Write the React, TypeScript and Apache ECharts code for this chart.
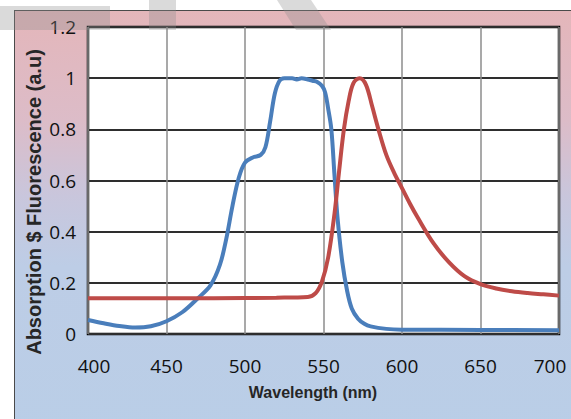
import React, { useEffect, useRef } from "react";
import * as echarts from "echarts";

// Absorption (blue)
const absWavelength = [
  400, 410, 420, 430, 440, 450, 460, 470, 478, 484, 488, 492, 496,
  500, 505, 510, 513, 516, 519, 522, 525, 530, 533, 536, 540, 543, 546, 549, 551, 553, 555, 557, 559,
  562, 565, 568, 572, 576, 580, 590, 600, 650, 700,
];
const absorption = [
  0.055, 0.042, 0.031, 0.025, 0.03, 0.05, 0.085, 0.14, 0.19, 0.27, 0.37, 0.5, 0.61,
  0.67, 0.69, 0.7, 0.73, 0.83, 0.94, 0.99, 1.0, 1.0, 0.995, 1.0, 0.995, 0.99, 0.985, 0.97, 0.945, 0.88, 0.8, 0.62, 0.45,
  0.28, 0.17, 0.1, 0.06, 0.04, 0.03, 0.02, 0.017, 0.016, 0.015,
];

// Fluorescence (red)
const fluWavelength = [
  400, 440, 480, 520, 540, 545, 549, 553, 557, 560, 563, 566, 569, 573, 577, 581,
  585, 590, 595, 600, 605, 610, 620, 630, 640, 650, 660, 670, 680, 690, 700,
];
const fluorescence = [
  0.14, 0.14, 0.14, 0.142, 0.145, 0.16, 0.205, 0.3, 0.47, 0.64, 0.8, 0.91, 0.98, 1.0, 0.975, 0.89,
  0.8, 0.7, 0.63, 0.57, 0.51, 0.455, 0.355, 0.28, 0.225, 0.195, 0.178, 0.167, 0.16, 0.155, 0.15,
];

const xTicks = [400, 450, 500, 550, 600, 650, 700];
const yTicks = [0, 0.2, 0.4, 0.6, 0.8, 1, 1.2];

const xTitle = "Wavelength (nm)";
const yTitle = "Absorption $ Fluorescence (a.u)";

export default function App() {
  const ref = useRef<HTMLDivElement>(null);

  useEffect(() => {
    const chart = echarts.init(ref.current!, null, { renderer: "svg" });
    const zip = (xs: number[], ys: number[]) => xs.map((x, i) => [x, ys[i]]);
    const tickFont = { fontFamily: "Open Sans", fontSize: 19, color: "#111111" };
    chart.setOption({
      animation: false,
      backgroundColor: "transparent",
      grid: {
        left: 88,
        top: 27,
        right: 12,
        bottom: 85,
        show: true,
        backgroundColor: "#ffffff",
        borderColor: "#000000",
        borderWidth: 2.5,
        containLabel: false,
      },
      xAxis: {
        type: "value",
        min: xTicks[0],
        max: xTicks[xTicks.length - 1],
        interval: 50,
        axisLine: { show: false },
        axisTick: { show: false },
        splitLine: { show: true, lineStyle: { color: "#8c8c8c", width: 1.5 } },
        axisLabel: {
          margin: 22,
          ...tickFont,
          formatter: (v: number) =>
            v === xTicks[0] ? "{l|" + v + "}" : v === xTicks[xTicks.length - 1] ? "{r|" + v + "}" : String(v),
          rich: {
            l: { ...tickFont, padding: [0, 0, 0, 12] },
            r: { ...tickFont, padding: [0, 18, 0, 0] },
          },
        },
      },
      yAxis: {
        type: "value",
        min: yTicks[0],
        max: yTicks[yTicks.length - 1],
        interval: 0.2,
        axisLine: { show: false },
        axisTick: { show: false },
        splitLine: { show: true, lineStyle: { color: "#2e2e2e", width: 2 } },
        axisLabel: {
          margin: 12,
          ...tickFont,
          formatter: (v: number) => String(Math.round(v * 10) / 10),
        },
      },
      series: [
        {
          type: "line",
          name: "Absorption",
          data: zip(absWavelength, absorption),
          showSymbol: false,
          smooth: 0.35,
          lineStyle: { color: "#4a7ebb", width: 4 },
          z: 3,
        },
        {
          type: "line",
          name: "Fluorescence",
          data: zip(fluWavelength, fluorescence),
          showSymbol: false,
          smooth: 0.35,
          lineStyle: { color: "#be4b48", width: 4 },
          z: 4,
        },
      ],
      graphic: [
        {
          type: "text",
          x: 34,
          y: 202,
          rotation: Math.PI / 2,
          style: {
            text: yTitle,
            fontFamily: "Liberation Sans",
            fontWeight: "bold",
            fontSize: 20,
            fill: "#262626",
            align: "center",
            verticalAlign: "middle",
          },
        },
        {
          type: "text",
          x: 313,
          y: 392,
          style: {
            text: xTitle,
            fontFamily: "Liberation Sans",
            fontWeight: "bold",
            fontSize: 16,
            fill: "#262626",
            align: "center",
            verticalAlign: "middle",
          },
        },
        {
          type: "polygon",
          z: 100,
          shape: { points: [[0, 6], [110, 6], [110, 30], [0, 30]] },
          style: { fill: "rgba(140,140,140,0.32)" },
        },
        {
          type: "polygon",
          z: 100,
          shape: { points: [[149, 0], [176, 0], [176, 30], [149, 30]] },
          style: { fill: "rgba(140,140,140,0.32)" },
        },
        {
          type: "polygon",
          z: 100,
          shape: { points: [[277, 0], [311, 0], [331, 30], [296, 30]] },
          style: { fill: "rgba(140,140,140,0.32)" },
        },
      ],
    });
    return () => chart.dispose();
  }, []);

  return (
    <div
      style={{
        position: "fixed",
        left: 0,
        top: 0,
        width: 571,
        height: 419,
        background: "#ffffff",
        overflow: "hidden",
      }}
    >
      <div
        style={{
          position: "absolute",
          left: 14,
          top: 10,
          width: 600,
          height: 440,
          borderLeft: "1.5px solid #4a4a4a",
          borderTop: "1.5px solid #4a4a4a",
          background:
            "linear-gradient(to bottom, #e4b6ba 0%, #dcbcc8 25%, #c9c6dc 42%, #bdcde6 58%, #b9cee7 100%)",
        }}
      />
      <div ref={ref} style={{ position: "absolute", left: 0, top: 0, width: 571, height: 419 }} />
    </div>
  );
}
